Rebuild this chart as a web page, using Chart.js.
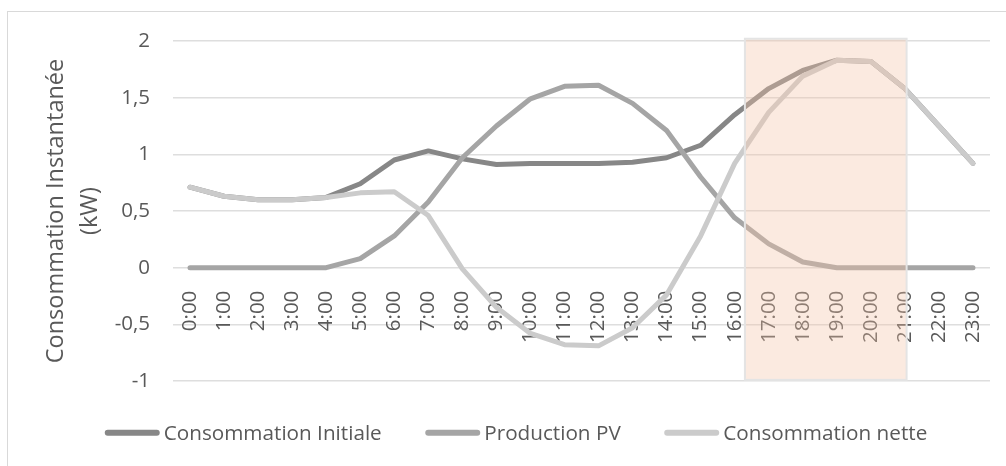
<!DOCTYPE html>
<html>
<head>
<meta charset="utf-8">
<script src="https://cdn.jsdelivr.net/npm/chart.js@4.4.1/dist/chart.umd.min.js"></script>
<style>
  html, body { margin: 0; padding: 0; background: #fff; overflow: hidden; }
  #wrap { position: relative; width: 1006px; height: 466px; overflow: hidden; }
  #frame { position: absolute; left: 7px; top: 11px; width: 1010px; height: 480px; border: 1px solid #d9d9d9; box-sizing: border-box; }
  #chart { position: absolute; left: 0; top: 0; }
</style>
</head>
<body>
<div id="wrap">
  <div id="frame"></div>
  <canvas id="chart" width="1006" height="466"></canvas>
</div>
<script>
// hourly profile (kW)
const hours = ['0:00', '1:00', '2:00', '3:00', '4:00', '5:00', '6:00', '7:00', '8:00', '9:00', '10:00', '11:00',
               '12:00', '13:00', '14:00', '15:00', '16:00', '17:00', '18:00', '19:00', '20:00', '21:00', '22:00', '23:00'];
const consoInitiale = [0.71, 0.63, 0.60, 0.60, 0.62, 0.74, 0.95, 1.03, 0.96, 0.91, 0.92, 0.92,
                       0.92, 0.93, 0.97, 1.08, 1.35, 1.58, 1.74, 1.83, 1.82, 1.58, 1.25, 0.92];
const productionPV = [0, 0, 0, 0, 0, 0.08, 0.28, 0.58, 0.97, 1.25, 1.49, 1.60,
                      1.61, 1.45, 1.21, 0.80, 0.44, 0.21, 0.05, 0, 0, 0, 0, 0];
const consoNette = [0.71, 0.63, 0.60, 0.60, 0.62, 0.66, 0.67, 0.46, -0.01, -0.35, -0.58, -0.68,
                    -0.69, -0.53, -0.24, 0.28, 0.92, 1.37, 1.69, 1.83, 1.82, 1.58, 1.25, 0.92];
const seriesNames = ['Consommation Initiale', 'Production PV', 'Consommation nette'];
const yTitle = ['Consommation Instantanée', '(kW)'];

const FONT = 'Open Sans';
const TEXT = '#595959';

// shaded evening peak (category index units)
const highlightBand = {
    id: 'highlightBand',
    afterDraw(chart, args, opts) {
        const {ctx, scales: {x, y}} = chart;
        const x0 = x.getPixelForValue(opts.from);
        const x1 = x.getPixelForValue(opts.to);
        const y0 = y.getPixelForValue(opts.top);
        const y1 = y.getPixelForValue(opts.bottom);
        ctx.save();
        ctx.fillStyle = opts.fill;
        ctx.fillRect(x0, y0, x1 - x0, y1 - y0);
        ctx.strokeStyle = opts.border;
        ctx.lineWidth = 2;
        ctx.strokeRect(x0, y0, x1 - x0, y1 - y0);
        ctx.restore();
    }
};

// excel-like legend: long line sample, text right next to it
const lineLegend = {
    id: 'lineLegend',
    afterDraw(chart, args, opts) {
        const ctx = chart.ctx;
        ctx.save();
        ctx.font = opts.size + 'px "' + FONT + '"';
        let items = chart.data.datasets.map(function(ds) {
            return {label: ds.label, color: ds.borderColor, w: opts.sample + opts.gap + ctx.measureText(ds.label).width};
        });
        let total = items.reduce((s, it) => s + it.w, 0) + opts.spacing * (items.length - 1);
        let x = opts.centerX - total / 2;
        for (let i = 0; i < items.length; i++) {
            ctx.strokeStyle = items[i].color;
            ctx.lineWidth = opts.lineWidth;
            ctx.lineCap = 'round';
            ctx.beginPath();
            ctx.moveTo(x + opts.lineWidth / 2, opts.lineY);
            ctx.lineTo(x + opts.sample - opts.lineWidth / 2, opts.lineY);
            ctx.stroke();
            ctx.fillStyle = TEXT;
            ctx.textBaseline = 'alphabetic';
            ctx.textAlign = 'left';
            ctx.fillText(items[i].label, x + opts.sample + opts.gap, opts.textY);
            x += items[i].w + opts.spacing;
        }
        ctx.restore();
    }
};

function lineSet(label, data, color, order) {
    return {
        label: label,
        data: data,
        borderColor: color,
        backgroundColor: color,
        borderWidth: 5,
        borderCapStyle: 'round',
        borderJoinStyle: 'round',
        pointRadius: 0,
        tension: 0,
        order: order
    };
}

new Chart(document.getElementById('chart'), {
    type: 'line',
    data: {
        labels: hours,
        datasets: [
            lineSet(seriesNames[0], consoInitiale, '#878787', 3),
            lineSet(seriesNames[1], productionPV, '#a5a5a5', 2),
            lineSet(seriesNames[2], consoNette, '#cbcbcb', 1)
        ]
    },
    options: {
        responsive: false,
        animation: false,
        layout: {
            padding: {left: 0, right: 16, top: 41, bottom: 85}
        },
        scales: {
            x: {
                type: 'category',
                position: {y: 0},
                offset: true,
                afterFit: function(scale) {
                    // rotated labels must not push the plot edges in
                    scale.paddingLeft = 0;
                    scale.paddingRight = 0;
                },
                grid: {display: false},
                border: {display: false},
                ticks: {
                    autoSkip: false,
                    minRotation: 90,
                    maxRotation: 90,
                    padding: 15,
                    color: TEXT,
                    font: {family: FONT, size: 20.5}
                }
            },
            y: {
                min: -1,
                max: 2,
                afterFit: function(scale) {
                    scale.width = 173;
                },
                grid: {color: '#dedede', lineWidth: 1.5, drawTicks: false},
                border: {display: false},
                ticks: {
                    stepSize: 0.5,
                    padding: 23,
                    color: TEXT,
                    font: {family: FONT, size: 20.5},
                    callback: function(value) {
                        return String(value).replace('.', ',');
                    }
                },
                title: {
                    display: true,
                    text: yTitle,
                    color: TEXT,
                    font: {family: FONT, size: 23.5, lineHeight: 1.45},
                    padding: {top: 39, bottom: 0}
                }
            }
        },
        plugins: {
            legend: {display: false},
            tooltip: {enabled: false},
            highlightBand: {
                from: 16.3, to: 21.05, top: 2.02, bottom: -0.99,
                fill: 'rgba(244, 195, 166, 0.35)',
                border: '#e4e4e4'
            },
            lineLegend: {
                centerX: 516, lineY: 432.7, textY: 439.5,
                size: 20.7, sample: 55, gap: 4, spacing: 43.5, lineWidth: 6
            }
        }
    },
    plugins: [highlightBand, lineLegend]
});
</script>
</body>
</html>
